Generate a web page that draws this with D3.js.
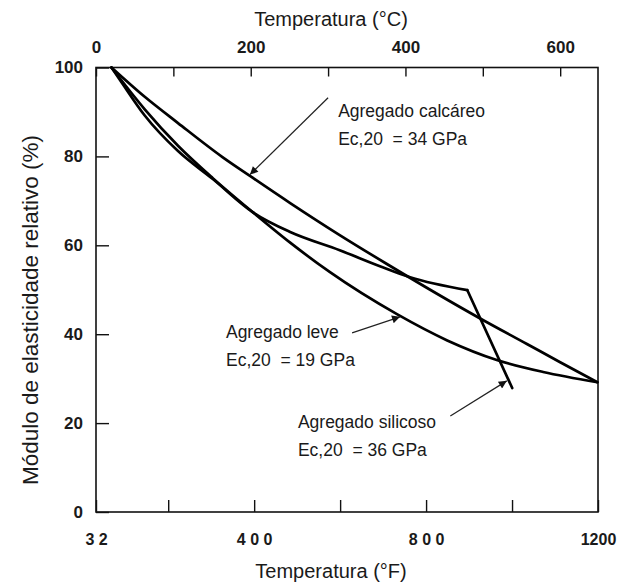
<!DOCTYPE html>
<html>
<head>
<meta charset="utf-8">
<script src="https://cdn.jsdelivr.net/npm/d3@7"></script>
<style>
  html, body { margin: 0; padding: 0; background: #fff; }
  svg text { font-family: "Liberation Sans", Arial, sans-serif; fill: #1a1a1a; white-space: pre; }
</style>
</head>
<body>
<svg id="chart" width="624" height="586"></svg>
<script>
// ---- data ----
// temperature in °C, relative modulus in %
const calcareoTemp = [20, 63, 106, 163, 199, 251, 315, 376, 496, 557, 600, 648];
const calcareoPct  = [100, 93.4, 87.5, 79.9, 75.6, 69.5, 62.3, 55.8, 43.6, 37.8, 33.7, 29.2];

const leveTemp = [20, 63, 106, 151, 203, 251, 302, 389, 454, 518, 578, 648];
const levePct  = [100, 90.6, 82.4, 75.1, 67.4, 60.6, 54.0, 44.5, 38.6, 34.2, 31.5, 29.2];

// smooth part up to the kink, then the straight drop
const silicosoTemp = [20, 31, 63, 106, 151, 203, 251, 315, 367, 406, 480];
const silicosoPct  = [100, 97.2, 89.2, 81.2, 74.9, 67.4, 63.0, 58.9, 55.3, 52.8, 49.9];
const silicosoDropTemp = [480, 538];
const silicosoDropPct  = [49.9, 27.9];

const yTicks = [0, 20, 40, 60, 80, 100];
const cTicks = [0, 100, 200, 300, 400, 500, 600];
const cTickLabels = ["0", "", "200", "", "400", "", "600"];
const fTicks = [32, 200, 400, 600, 800, 1000, 1200];
const fTickLabels = ["3 2", "", "4 0 0", "", "8 0 0", "", "1200"];

// annotations: label lines, text anchor (°C, %), arrow start and tip (°C, %)
const annLines = [
  ["Agregado calcáreo", "Ec,20  = 34 GPa"],
  ["Agregado leve", "Ec,20  = 19 GPa"],
  ["Agregado silicoso", "Ec,20  = 36 GPa"]
];
const annTextPos = [[313, 88.9], [168, 39.2], [261, 18.9]];
const annArrowFrom = [[300, 93.2], [331, 40.3], [458, 21.6]];
const annArrowTo = [[199, 75.9], [393, 43.9], [531, 29.5]];

// ---- layout ----
const L = 96, R = 598, T = 67.5, B = 512;
const svg = d3.select("#chart");

const xC = d3.scaleLinear().domain([0, (1200 - 32) * 5 / 9]).range([L, R]);
const xF = d3.scaleLinear().domain([32, 1200]).range([L, R]);
const y = d3.scaleLinear().domain([0, 100]).range([B, T]);

// frame
svg.append("rect").attr("x", L).attr("y", T).attr("width", R - L).attr("height", B - T)
  .attr("fill", "none").attr("stroke", "#111").attr("stroke-width", 1.6);

// left axis
const gy = svg.append("g").attr("transform", `translate(${L},0)`)
  .call(d3.axisLeft(y).tickValues(yTicks).tickSizeInner(-13).tickSizeOuter(0).tickPadding(13));
gy.select(".domain").remove();
gy.selectAll(".tick line").attr("stroke", "#111").attr("stroke-width", 1.4);
gy.selectAll(".tick text").attr("font-size", 17).attr("font-weight", "bold")
  .style("font-family", "Liberation Sans, Arial, sans-serif");

// top axis (°C)
const gt = svg.append("g").attr("transform", `translate(0,${T})`)
  .call(d3.axisTop(xC).tickValues(cTicks).tickSizeInner(-9).tickSizeOuter(0)
    .tickFormat((d, i) => cTickLabels[i]));
gt.select(".domain").remove();
gt.selectAll(".tick line").attr("stroke", "#111").attr("stroke-width", 1.4);
gt.selectAll(".tick text").attr("y", -15).attr("dy", 0).attr("font-size", 17).attr("font-weight", "bold")
  .style("font-family", "Liberation Sans, Arial, sans-serif");

// bottom axis (°F)
const gb = svg.append("g").attr("transform", `translate(0,${B})`)
  .call(d3.axisBottom(xF).tickValues(fTicks).tickSizeInner(-12).tickSizeOuter(0)
    .tickFormat((d, i) => fTickLabels[i]));
gb.select(".domain").remove();
gb.selectAll(".tick line").attr("stroke", "#111").attr("stroke-width", 1.4);
gb.selectAll(".tick text").attr("y", 33).attr("dy", 0).attr("font-size", 16).attr("font-weight", "bold")
  .style("font-family", "Liberation Sans, Arial, sans-serif").style("white-space", "pre");

// axis titles
svg.append("text").attr("x", 331).attr("y", 26).attr("text-anchor", "middle")
  .attr("font-size", 20).text("Temperatura (°C)");
svg.append("text").attr("x", 331).attr("y", 578).attr("text-anchor", "middle")
  .attr("font-size", 20).text("Temperatura (°F)");
svg.append("text").attr("transform", "translate(38,310) rotate(-90)").attr("text-anchor", "middle")
  .attr("font-size", 22.5).text("Módulo de elasticidade relativo (%)");

// curves
const smooth = d3.line().x(d => xC(d[0])).y(d => y(d[1])).curve(d3.curveMonotoneX);
const poly = d3.line().x(d => xC(d[0])).y(d => y(d[1]));
const zip = (a, b) => a.map((v, i) => [v, b[i]]);
const curveStyle = sel => sel.attr("fill", "none").attr("stroke", "#000").attr("stroke-width", 2.7)
  .attr("stroke-linejoin", "round").attr("stroke-linecap", "round");

svg.append("path").datum(zip(calcareoTemp, calcareoPct)).attr("d", smooth).call(curveStyle);
svg.append("path").datum(zip(leveTemp, levePct)).attr("d", smooth).call(curveStyle);
svg.append("path").datum(zip(silicosoTemp, silicosoPct)).attr("d", smooth).call(curveStyle);
svg.append("path").datum(zip(silicosoDropTemp, silicosoDropPct)).attr("d", poly).call(curveStyle);

// arrows
const defs = svg.append("defs");
defs.append("marker").attr("id", "ah").attr("viewBox", "0 0 10 10").attr("refX", 10).attr("refY", 5)
  .attr("markerWidth", 11).attr("markerHeight", 8).attr("markerUnits", "userSpaceOnUse").attr("orient", "auto")
  .append("path").attr("d", "M0,0 L10,5 L0,10 Z").attr("fill", "#111");

annLines.forEach((lines, i) => {
  svg.append("line")
    .attr("x1", xC(annArrowFrom[i][0])).attr("y1", y(annArrowFrom[i][1]))
    .attr("x2", xC(annArrowTo[i][0])).attr("y2", y(annArrowTo[i][1]))
    .attr("stroke", "#222").attr("stroke-width", 1.2).attr("marker-end", "url(#ah)");
  const tx = xC(annTextPos[i][0]), ty = y(annTextPos[i][1]);
  lines.forEach((s, j) => {
    svg.append("text").attr("x", tx).attr("y", ty + j * 28.5)
      .attr("font-size", 17.5).text(s);
  });
});
</script>
</body>
</html>
